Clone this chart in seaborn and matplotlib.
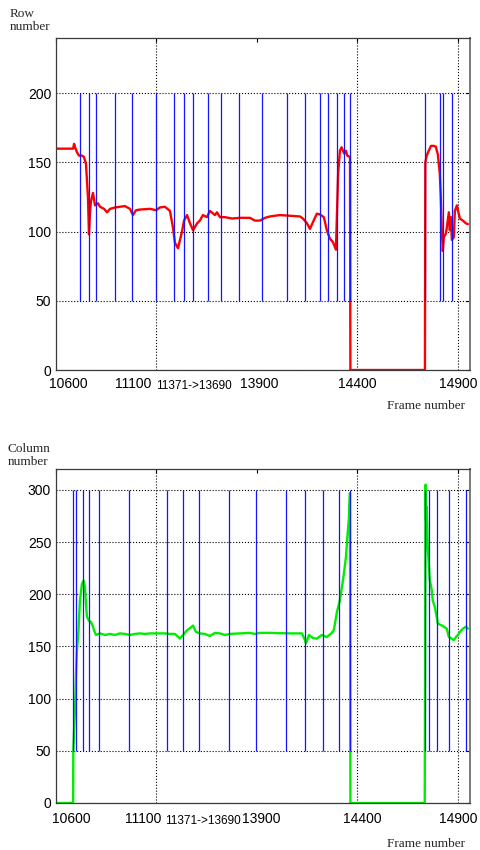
import numpy as np
import pandas as pd
import matplotlib
matplotlib.use("Agg")
import matplotlib.pyplot as plt
from matplotlib.transforms import ScaledTranslation
import seaborn as sns

# Frames 11371..13690 are cut out of the time axis; later frames are shifted left.
CUT_END = 13690
CUT_SHIFT = 2300

# ---- row coordinate of the tracked object (top panel) ----
row_frames = [10600, 10685, 10690, 10695, 10704, 10714, 10729, 10739, 10749, 10754,
              10759, 10764, 10769, 10774, 10784, 10794, 10809, 10819, 10839, 10854,
              10869, 10894, 10918, 10943, 10968, 10983, 10998, 11018, 11068, 11098,
              11117, 11142, 11167, 11182, 11192, 11207, 11217, 11227, 11237, 11252,
              11267, 11282, 11302, 11316, 11331, 11351, 11366, 13691, 13701, 13716,
              13741, 13776, 13815, 13865, 13890, 13915, 13940, 13965, 14014, 14064,
              14114, 14129, 14149, 14164, 14179, 14198, 14213, 14233, 14248, 14263,
              14278, 14293, 14304, 14313, 14321, 14334, 14343, 14349, 14363, 14365,
              14736, 14737, 14738, 14745, 14755, 14766, 14781, 14790, 14800, 14810,
              14815, 14820, 14825, 14830, 14840, 14845, 14855, 14860, 14865, 14870,
              14880, 14885, 14895, 14900, 14910, 14925, 14940, 14950]
row_values = [160, 160, 163.5, 161, 157.5, 155, 155, 154, 149, 137,
              125, 98, 113, 122, 128, 119, 120.5, 118, 116.5, 114,
              116.5, 117.5, 118, 118.5, 116.5, 112, 115.5, 116, 116.5, 115.5,
              117.5, 118, 115, 103, 92, 88, 94, 100, 108, 112,
              106, 101, 106, 108, 112, 110.5, 115, 112, 114, 110.5,
              110.5, 109.5, 110, 110, 108, 108, 110, 111, 112, 111.5,
              111, 109.5, 106, 102, 107, 113, 112.5, 110.5, 101, 95,
              92.5, 87, 142, 158.5, 161, 156.5, 158.5, 155, 154, 0,
              0, 76, 150, 155, 158.5, 162, 162, 161.5, 156, 142,
              125, 101, 86, 96, 98.5, 103, 114, 101, 110.5, 94,
              96, 115, 119, 115.5, 109.5, 108, 106, 105.5]
row_cuts = [10719, 10763, 10799, 10892, 10980, 11100, 11186, 11238, 11284, 11357,
            13723, 13810, 13925, 14048, 14137, 14215, 14252, 14298, 14334, 14364,
            14737, 14810, 14825, 14872]

# ---- column coordinate of the tracked object (bottom panel) ----
col_frames = [10600, 10685, 10686, 10690, 10695, 10700, 10704, 10712, 10714, 10719,
              10729, 10737, 10744, 10749, 10754, 10764, 10774, 10784, 10789, 10799,
              10819, 10844, 10869, 10894, 10918, 10943, 10968, 10993, 11018, 11043,
              11068, 11142, 11167, 11192, 11217, 11232, 11252, 11267, 11282, 11296,
              11316, 11341, 11366, 13691, 13716, 13741, 13766, 13815, 13865, 13890,
              13915, 13965, 14064, 14124, 14139, 14144, 14159, 14179, 14198, 14223,
              14248, 14273, 14283, 14298, 14313, 14323, 14333, 14343, 14350, 14358,
              14363, 14365, 14735, 14739, 14741, 14745, 14750, 14755, 14760, 14770,
              14775, 14785, 14795, 14800, 14815, 14830, 14845, 14855, 14865, 14880,
              14890, 14900, 14910, 14925, 14940, 14950]
col_values = [0, 0, 50, 70, 92, 127, 146.5, 165.5, 175, 194,
              210, 213, 207, 191, 178.5, 174.5, 173.5, 169, 165.5, 161,
              162.5, 161, 162, 161, 162.5, 162, 161, 162, 162.5, 162,
              162.5, 162.5, 162, 162, 157.5, 161, 165.5, 167.5, 170, 164,
              162.5, 162, 160, 163, 162.5, 161, 162, 162.5, 163, 162,
              163, 163, 162.5, 162.5, 156, 153, 161, 158, 157.5, 161,
              159, 163, 166, 183, 194.5, 207, 220, 236, 255, 274,
              297, 0, 0, 305, 271, 284, 245, 230, 214, 204,
              194, 188, 178, 172, 170.5, 169, 167, 159, 158, 156,
              159, 161, 164, 167, 169, 167]
col_cuts = [10683, 10701, 10736, 10763, 10814, 10963, 11151, 11230, 11311, 13759,
            13895, 14044, 14137, 14230, 14308, 14364, 14736, 14757, 14794, 14857,
            14940]

# ---- axis labelling ----
xtick_frames = [10600, 11100, 11371, 13900, 14400, 14900]
xtick_labels = ["10600", "11100", "11371->13690", "13900", "14400", "14900"]
grid_frames = [11100, 14400, 14900]
row_yticks = [0, 50, 100, 150, 200]
col_yticks = [0, 50, 100, 150, 200, 250, 300]


def squeeze(frames):
    """Map frame numbers onto the axis with the cut-out interval removed."""
    f = np.asarray(frames, dtype=float)
    return np.where(f >= CUT_END, f - CUT_SHIFT, f)


sns.set_style("white")
plt.rcParams["font.family"] = ["Liberation Sans", "DejaVu Sans"]

fig = plt.figure(figsize=(4.8, 8.5), dpi=100)
ax_row = fig.add_axes([0.1167, 0.5647, 0.8615, 0.3906])
ax_col = fig.add_axes([0.1167, 0.0553, 0.8615, 0.3929])


def draw_panel(ax, frames, values, cuts, cut_lo, cut_hi, color, ymax, yticks,
               label_dx, label_pad):
    df = pd.DataFrame({"pos": squeeze(frames), "val": values})
    sns.lineplot(data=df, x="pos", y="val", ax=ax, color=color, linewidth=1.7,
                 estimator=None, sort=False, zorder=2)
    ax.vlines(squeeze(cuts), cut_lo, cut_hi, color="#1414ff", linewidth=0.9, zorder=3)
    for g in squeeze(grid_frames):
        ax.axvline(g, color="black", linestyle=":", linewidth=0.8, zorder=1)

    ax.set_xlim(10600, 12658)
    ax.set_ylim(0, ymax)
    ax.set_xlabel("")
    ax.set_ylabel("")
    ax.set_axisbelow(True)
    ax.set_yticks(yticks)
    ax.yaxis.grid(True, linestyle=":", color="black", linewidth=0.8)
    ax.xaxis.grid(False)

    ax.set_xticks(squeeze(xtick_frames), xtick_labels)
    ax.tick_params(axis="both", direction="in", length=3, width=0.8,
                   top=True, right=True, labelsize=10, colors="black")
    ax.tick_params(axis="x", pad=label_pad)
    ax.tick_params(axis="y", pad=3.5)

    ticks = ax.xaxis.get_major_ticks()
    ticks[2].tick1line.set_visible(False)
    ticks[2].tick2line.set_visible(False)
    for i, lbl in enumerate(ax.get_xticklabels()):
        dy = 0.0
        if i == 2:
            lbl.set_fontsize(8.5)
            dy = -2.0
        lbl.set_transform(lbl.get_transform() +
                          ScaledTranslation(label_dx[i] / 72.0, dy / 72.0,
                                            fig.dpi_scale_trans))

    for side in ("left", "right", "top", "bottom"):
        ax.spines[side].set_color("#3a3a3a")
        ax.spines[side].set_linewidth(0.9)
    ax.spines["right"].set_color("#7a7a7a")
    ax.spines["right"].set_linewidth(1.4)


draw_panel(ax_row, row_frames, row_values, row_cuts, 50, 200, "#ff0000", 240,
           row_yticks, [8.6, -16.5, -12.0, 1.4, 0.0, 0.6], 5.0)
draw_panel(ax_col, col_frames, col_values, col_cuts, 50, 300, "#00ee00", 320,
           col_yticks, [10.8, -9.4, -5.8, 2.9, 3.6, 0.6], 6.5)

serif = ["Liberation Serif", "DejaVu Serif"]
fig.text(10 / 480, 1 - 8 / 850, "Row\nnumber", ha="left", va="top",
         family=serif, fontsize=9.5, linespacing=1.15)
fig.text(8 / 480, 1 - 443 / 850, "Column\nnumber", ha="left", va="top",
         family=serif, fontsize=9.5, linespacing=1.15)
fig.text(387 / 480, 1 - 409 / 850, "Frame number", ha="left", va="baseline",
         family=serif, fontsize=9.5)
fig.text(387 / 480, 1 - 847 / 850, "Frame number", ha="left", va="baseline",
         family=serif, fontsize=9.5)

fig.savefig("out.png", dpi=100)
